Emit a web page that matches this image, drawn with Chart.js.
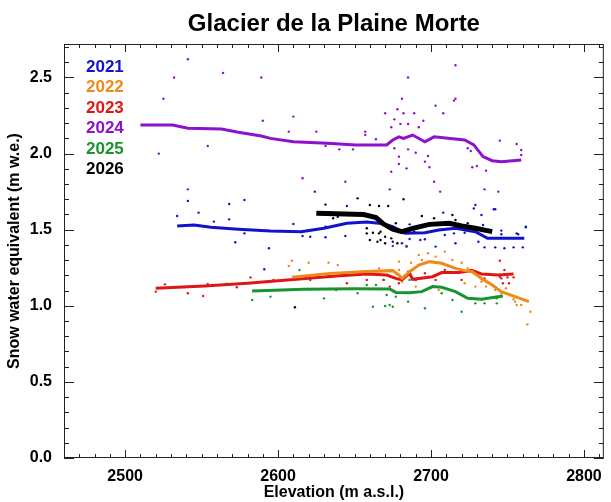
<!DOCTYPE html>
<html>
<head>
<meta charset="utf-8">
<script src="https://cdn.jsdelivr.net/npm/chart.js@4.4.1/dist/chart.umd.min.js"></script>
<style>
  html, body { margin: 0; padding: 0; background: #fff; }
</style>
</head>
<body>
<canvas id="grafico" width="611" height="502"></canvas>
<script>
// anos e cores
const anos = ['2021', '2022', '2023', '2024', '2025', '2026'];
const cores = ['#1212cc', '#ef8a1a', '#e01616', '#8c12cc', '#17942f', '#000000'];

// eixos
const xTicks = [2500, 2600, 2700, 2800];
const yTicks = [0.0, 0.5, 1.0, 1.5, 2.0, 2.5];

// linhas suavizadas [altitude, swe]
const linha2021 = [[2534,1.524],[2545,1.531],[2556,1.516],[2574,1.503],[2595,1.491],[2615,1.487],[2630,1.509],[2645,1.542],[2658,1.550],[2666,1.542],[2670,1.535],[2675,1.52],[2683,1.476],[2696,1.48],[2705,1.498],[2716,1.509],[2729,1.487],[2737,1.443],[2748,1.443],[2761,1.443]];
const linha2022 = [[2609,1.187],[2634,1.213],[2658,1.225],[2675,1.231],[2679,1.202],[2681,1.18],[2686,1.224],[2692,1.268],[2699,1.29],[2707,1.279],[2716,1.246],[2722,1.231],[2727,1.224],[2733,1.18],[2740,1.137],[2746,1.093],[2755,1.06],[2764,1.027]];
const linha2023 = [[2520,1.115],[2552,1.13],[2580,1.148],[2606,1.17],[2638,1.196],[2658,1.209],[2671,1.202],[2677,1.18],[2681,1.17],[2686,1.214],[2688,1.174],[2701,1.191],[2707,1.218],[2718,1.218],[2727,1.231],[2733,1.209],[2744,1.202],[2754,1.209]];
const linha2024 = [[2510,2.188],[2531,2.188],[2541,2.166],[2563,2.162],[2574,2.14],[2589,2.116],[2595,2.10],[2610,2.078],[2632,2.068],[2651,2.057],[2671,2.057],[2675,2.089],[2679,2.11],[2682,2.10],[2688,2.122],[2696,2.078],[2702,2.11],[2722,2.089],[2728,2.057],[2734,1.98],[2740,1.953],[2746,1.947],[2759,1.958]];
const linha2025 = [[2583,1.097],[2617,1.108],[2649,1.112],[2673,1.11],[2677,1.088],[2686,1.086],[2694,1.093],[2701,1.126],[2707,1.122],[2716,1.093],[2724,1.049],[2733,1.043],[2747,1.064]];
const linha2026 = [[2625,1.608],[2656,1.60],[2664,1.58],[2669,1.537],[2675,1.503],[2681,1.487],[2688,1.509],[2699,1.535],[2712,1.542],[2720,1.524],[2729,1.509],[2740,1.487]];

// medicoes pontuais [altitude, swe]
const pontos2021 = [[2541,1.689],[2568,1.669],[2578,1.695],[2548,1.612],[2534,1.59],[2568,1.568],[2558,1.553],[2610,1.537],[2631,1.52],[2578,1.476],[2616,1.459],[2572,1.417],[2631,1.45],[2644,1.459],[2594,1.378],[2591,1.24],[2624,1.75],[2621,1.454],[2645,1.656],[2729,1.662],[2733,1.597],[2742,1.634],[2708,1.612],[2686,1.535],[2734,1.531],[2746,1.494],[2746,1.47],[2756,1.476],[2762,1.516],[2731,1.421],[2735,1.384],[2742,1.384],[2748,1.378],[2754,1.384],[2760,1.384],[2716,1.411],[2709,1.465],[2693,1.432],[2686,1.439],[2681,1.411],[2675,1.421],[2703,1.389],[2715,1.476],[2696,1.437],[2722,1.48],[2757,1.47],[2762,1.52],[2741,1.634],[2728,1.64]];
const pontos2022 = [[2609,1.296],[2620,1.283],[2633,1.283],[2639,1.268],[2607,1.262],[2698,1.345],[2709,1.356],[2703,1.323],[2694,1.301],[2687,1.283],[2714,1.301],[2720,1.283],[2724,1.246],[2729,1.214],[2733,1.158],[2736,1.126],[2742,1.104],[2746,1.082],[2755,1.027],[2759,1.005],[2765,0.961],[2681,1.158],[2677,1.214],[2690,1.126],[2705,1.104],[2749,1.115],[2754,1.043],[2756,1.005],[2763,0.878],[2666,1.246],[2679,1.235],[2692,1.334],[2679,1.29],[2722,1.148],[2729,1.126]];
const pontos2023 = [[2520,1.093],[2526,1.141],[2541,1.082],[2551,1.064],[2554,1.143],[2566,1.143],[2573,1.122],[2582,1.187],[2597,1.17],[2621,1.17],[2645,1.148],[2658,1.17],[2669,1.17],[2673,1.196],[2685,1.224],[2696,1.214],[2709,1.235],[2726,1.235],[2735,1.18],[2746,1.18],[2720,1.17],[2690,1.17],[2679,1.148],[2703,1.17],[2673,1.126],[2729,1.214],[2745,1.296],[2748,1.235],[2745,1.191],[2750,1.187],[2754,1.187],[2747,1.148],[2751,1.148]];
const pontos2024 = [[2541,2.62],[2532,2.50],[2564,2.53],[2525,2.36],[2554,2.05],[2522,2.0],[2541,1.765],[2590,2.216],[2610,2.243],[2607,2.144],[2625,2.144],[2631,2.05],[2640,2.028],[2649,2.028],[2616,1.838],[2644,1.815],[2657,2.144],[2657,2.122],[2703,2.315],[2715,2.348],[2670,2.265],[2678,2.291],[2682,2.265],[2689,2.265],[2708,2.265],[2676,2.225],[2680,2.194],[2685,2.194],[2674,2.173],[2692,2.173],[2695,2.216],[2664,2.094],[2676,2.035],[2685,2.028],[2690,2.006],[2698,1.984],[2679,1.98],[2696,1.947],[2679,1.932],[2684,1.903],[2674,1.881],[2699,1.91],[2724,2.035],[2726,2.017],[2727,1.91],[2730,1.918],[2736,1.888],[2745,2.085],[2756,2.063],[2759,2.024],[2759,1.991],[2702,1.815],[2673,1.765],[2706,1.75],[2735,1.765],[2744,1.75],[2589,2.50],[2685,2.50],[2681,2.36],[2716,2.36],[2716,2.58],[2675,1.393],[2684,1.393]];
const pontos2025 = [[2583,1.038],[2595,1.06],[2630,1.049],[2638,1.104],[2652,1.082],[2662,0.994],[2670,0.999],[2675,0.994],[2658,1.137],[2664,1.137],[2669,1.17],[2614,1.235],[2671,1.071],[2677,1.06],[2685,1.027],[2696,0.984],[2714,1.038],[2729,1.016],[2735,1.016],[2707,1.082],[2720,0.961],[2686,1.17],[2673,1.005],[2743,1.049],[2743,1.016]];
const pontos2026 = [[2660,1.662],[2666,1.656],[2672,1.656],[2682,1.70],[2694,1.59],[2702,1.575],[2714,1.597],[2658,1.476],[2662,1.48],[2666,1.476],[2670,1.454],[2674,1.443],[2678,1.411],[2665,1.421],[2660,1.432],[2684,1.389],[2689,1.487],[2704,1.542],[2716,1.564],[2724,1.542],[2677,1.542],[2631,1.665],[2652,1.706],[2639,1.585],[2636,1.575],[2658,1.509],[2667,1.487],[2667,1.432],[2670,1.411],[2611,0.99]];

const linhas = [linha2021, linha2022, linha2023, linha2024, linha2025, linha2026];
const pontos = [pontos2021, pontos2022, pontos2023, pontos2024, pontos2025, pontos2026];

const fonte = '"Liberation Sans", Arial, Helvetica, sans-serif';
const xyz = (arr) => arr.map(p => ({x: p[0], y: p[1]}));

const datasets = [];
anos.forEach((ano, i) => {
  datasets.push({
    type: 'line',
    label: ano,
    data: xyz(linhas[i]),
    borderColor: cores[i],
    borderWidth: ano === '2026' ? 5 : 3,
    pointRadius: 0,
    fill: false,
    tension: 0,
    order: ano === '2026' ? 0 : 1
  });
});
anos.forEach((ano, i) => {
  datasets.push({
    type: 'scatter',
    label: 'pts' + ano,
    data: xyz(pontos[i]),
    backgroundColor: cores[i],
    borderWidth: 0,
    pointRadius: 1.2,
    order: 5
  });
});

// moldura com ticks para dentro nos 4 lados (estilo IDL)
const moldura = {
  id: 'moldura',
  afterDraw(chart) {
    const {ctx, chartArea: a, scales} = chart;
    const sx = scales.x, sy = scales.y;
    ctx.save();
    ctx.strokeStyle = '#222';
    ctx.lineWidth = 1;
    ctx.strokeRect(a.left + 0.5, a.top + 0.5, a.right - a.left - 1, a.bottom - a.top - 1);
    ctx.beginPath();
    for (let v = Math.ceil(sx.min / 10) * 10; v <= sx.max; v += 10) {
      const px = Math.round(sx.getPixelForValue(v)) + 0.5;
      const len = v % 100 === 0 ? 8 : 4;
      ctx.moveTo(px, a.bottom); ctx.lineTo(px, a.bottom - len);
      ctx.moveTo(px, a.top); ctx.lineTo(px, a.top + len);
    }
    for (let k = 0; k / 10 <= sy.max; k++) {
      const py = Math.round(sy.getPixelForValue(k / 10)) + 0.5;
      const len = k % 5 === 0 ? 10 : 5;
      ctx.moveTo(a.left, py); ctx.lineTo(a.left + len, py);
      ctx.moveTo(a.right, py); ctx.lineTo(a.right - len, py);
    }
    ctx.stroke();

    // legenda em texto colorido
    ctx.font = 'bold 17px ' + fonte;
    ctx.textBaseline = 'middle';
    ctx.textAlign = 'left';
    anos.forEach((ano, i) => {
      ctx.fillStyle = cores[i];
      ctx.fillText(ano, a.left + 22, a.top + 23 + i * 20.5);
    });
    ctx.restore();
  }
};

new Chart(document.getElementById('grafico'), {
  data: { datasets },
  plugins: [moldura],
  options: {
    responsive: false,
    animation: false,
    devicePixelRatio: 1,
    layout: { padding: { right: 1 } },
    plugins: {
      legend: { display: false },
      tooltip: { enabled: false }
    },
    scales: {
      x: {
        type: 'linear',
        position: 'bottom',
        min: 2460,
        max: 2813,
        afterBuildTicks: s => { s.ticks = xTicks.map(v => ({value: v})); },
        afterFit: s => { s.height = 44; },
        grid: { display: false, drawTicks: false },
        border: { display: false },
        ticks: { color: '#000', padding: 9, maxRotation: 0, callback: v => String(v), font: { family: fonte, size: 16, weight: 'bold' } },
        title: { display: true, text: 'Elevation (m a.s.l.)', color: '#000', padding: { top: 0, bottom: 0 }, font: { family: fonte, size: 16, weight: 'bold' } }
      },
      topo: {
        type: 'linear',
        position: 'top',
        min: 2460,
        max: 2813,
        afterFit: s => { s.height = 44; },
        grid: { display: false, drawTicks: false },
        border: { display: false },
        ticks: { display: false },
        title: { display: true, text: 'Glacier de la Plaine Morte', color: '#000', padding: { top: 10, bottom: 0 }, font: { family: fonte, size: 24, weight: 'bold' } }
      },
      y: {
        type: 'linear',
        position: 'left',
        min: 0,
        max: 2.72,
        afterBuildTicks: s => { s.ticks = yTicks.map(v => ({value: v})); },
        afterFit: s => { s.width = 64; },
        grid: { display: false, drawTicks: false },
        border: { display: false },
        ticks: { color: '#000', padding: 12, callback: v => v.toFixed(1), font: { family: fonte, size: 16, weight: 'bold' } },
        title: { display: true, text: 'Snow water equivalent (m w.e.)', color: '#000', padding: { top: 5, bottom: 0 }, font: { family: fonte, size: 16, weight: 'bold' } }
      }
    }
  }
});
</script>
</body>
</html>
